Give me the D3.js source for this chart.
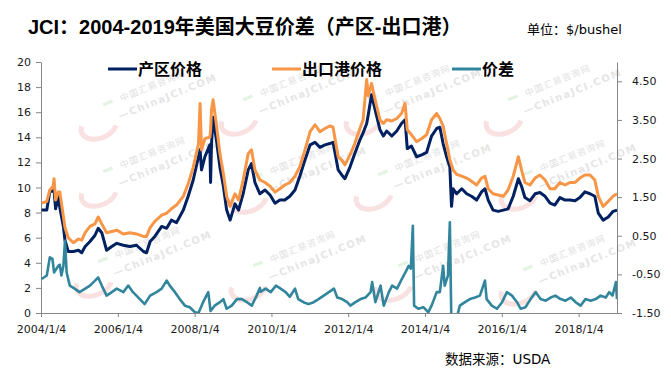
<!DOCTYPE html>
<html>
<head>
<meta charset="utf-8">
<script src="https://cdn.jsdelivr.net/npm/d3@7"></script>
<style>
  body { margin: 0; background: #fff; }
  svg { display: block; }
</style>
</head>
<body>
<div id="chart"></div>
<script>
// weekly prices (thinned out), $/bushel
var priceDates = [
  '2004-01-10','2004-02-28','2004-03-28','2004-04-28','2004-05-07','2004-05-22','2004-06-16','2004-07-01',
  '2004-08-04','2004-08-19','2004-09-19','2004-11-07','2004-12-25','2005-01-25','2005-02-27','2005-04-14',
  '2005-06-01','2005-07-01','2005-08-04','2005-09-19','2005-11-07','2005-12-25','2006-02-25','2006-04-28',
  '2006-07-01','2006-09-04','2006-10-04','2006-11-07','2006-12-22','2007-02-25','2007-04-13','2007-05-28',
  '2007-07-16','2007-09-19','2007-11-04','2007-12-22','2008-02-10','2008-02-25','2008-03-10','2008-04-11',
  '2008-05-28','2008-06-04','2008-06-13','2008-06-28','2008-07-31','2008-09-01','2008-10-04','2008-11-04',
  '2008-12-07','2009-01-22','2009-02-25','2009-04-10','2009-05-28','2009-06-28','2009-07-31','2009-09-16',
  '2009-11-04','2009-12-22','2010-02-07','2010-03-25','2010-05-11','2010-06-28','2010-08-16','2010-10-01',
  '2010-11-19','2011-01-07','2011-02-22','2011-04-10','2011-05-28','2011-07-13','2011-08-13','2011-10-01',
  '2011-11-04','2011-12-04','2012-01-22','2012-03-07','2012-04-25','2012-05-25','2012-06-28','2012-07-13',
  '2012-08-13','2012-09-16','2012-11-01','2012-12-04','2013-01-04','2013-02-22','2013-04-10','2013-05-25',
  '2013-06-28','2013-07-19','2013-08-28','2013-10-16','2013-12-04','2014-01-19','2014-03-07','2014-04-25',
  '2014-05-25','2014-06-25','2014-07-28','2014-08-28','2014-09-13','2014-09-28','2014-11-01','2014-12-19',
  '2015-02-04','2015-03-22','2015-05-10','2015-06-25','2015-07-28','2015-08-28','2015-10-13','2015-12-01',
  '2016-01-19','2016-03-04','2016-04-22','2016-06-10','2016-07-10','2016-08-11','2016-09-28','2016-11-16',
  '2017-01-01','2017-02-19','2017-04-07','2017-05-22','2017-07-10','2017-08-28','2017-10-13','2017-12-01',
  '2018-01-16','2018-03-04','2018-04-22','2018-06-07','2018-07-10','2018-08-25','2018-10-13','2018-11-28',
  '2019-01-04'
];

var farmPrice = [
  8.2, 8.2, 9.7, 9.7, 9.8, 8.3, 9.3, 8.4,
  6.9, 5.8, 4.9, 4.9, 5.0, 4.8, 5.3, 5.7,
  6.2, 6.75, 6.4, 5.0, 5.3, 5.55, 5.4, 5.3,
  5.4, 4.9, 4.8, 5.7, 6.1, 6.9, 6.75, 7.4,
  7.2, 8.2, 9.3, 10.6, 12.45, 13.0, 11.4, 12.45,
  13.4, 10.4, 13.5, 15.6, 13.7, 11.6, 10.1, 8.2,
  7.4, 8.7, 8.2, 9.5, 11.4, 11.9, 10.4, 9.5,
  9.8, 9.4, 8.75, 9.0, 9.0, 9.3, 9.8, 10.9,
  12.2, 13.4, 13.6, 13.2, 13.4, 13.5, 13.6, 11.4,
  11.0, 10.7, 11.65, 12.7, 13.8, 14.35, 15.1, 15.8,
  17.4, 16.2, 14.6, 14.1, 14.5, 14.1, 14.5, 15.1,
  15.4, 13.1, 13.3, 12.45, 12.6, 12.8, 14.1, 14.7,
  14.8, 13.5, 12.45, 11.65, 8.5, 9.9, 9.5, 9.9,
  9.5, 9.3, 9.0, 9.65, 9.9, 9.0, 8.2, 8.1,
  8.2, 8.3, 9.3, 10.7, 10.1, 9.2, 8.95, 9.5,
  9.6, 9.3, 8.75, 8.6, 9.2, 9.0, 9.0, 8.95,
  9.2, 9.65, 9.5, 9.3, 7.95, 7.4, 7.65, 8.1,
  8.2
];

var portPrice = [
  8.75, 8.9, 9.8, 10.1, 10.7, 9.0, 9.65, 9.65,
  7.7, 6.8, 6.0, 5.6, 5.9, 5.8, 6.4, 6.9,
  7.1, 7.65, 7.1, 6.4, 6.5, 6.6, 6.3, 6.4,
  6.3, 6.1, 6.1, 6.8, 7.3, 7.8, 7.95, 8.3,
  8.6, 9.3, 10.3, 11.6, 13.5, 16.7, 13.0, 13.9,
  14.0, 14.5, 16.2, 17.0, 14.9, 12.7, 11.1, 9.3,
  8.5, 9.5, 9.0, 10.6, 12.7, 13.0, 11.4, 10.6,
  10.4, 10.1, 9.65, 9.9, 10.2, 10.4, 10.9, 11.65,
  13.0, 14.45, 15.0, 14.45, 14.7, 14.9, 14.8, 12.45,
  12.2, 11.8, 12.6, 13.5, 14.7, 15.4, 18.6, 17.3,
  18.3, 17.0, 15.4, 15.1, 15.4, 15.3, 15.5, 15.9,
  16.7, 14.6, 14.2, 13.65, 13.9, 14.2, 15.4, 15.9,
  15.5, 14.9, 13.5, 12.2, 11.8, 11.4, 11.05, 10.9,
  10.75, 10.5, 10.2, 10.75, 10.9, 9.9, 9.5, 9.4,
  9.3, 9.8, 10.9, 12.45, 11.4, 10.4, 10.2, 10.75,
  11.0, 10.6, 9.9, 9.9, 10.4, 10.2, 10.4, 10.4,
  10.75, 11.0, 11.0, 10.6, 9.3, 8.5, 8.9, 9.3,
  9.5
];

// spread (farm - port), right axis
var spreadDates = [
  '2004-01-10','2004-02-28','2004-03-28','2004-04-22','2004-05-07','2004-06-16','2004-07-01','2004-07-16',
  '2004-08-04','2004-08-19','2004-09-04','2004-10-04','2004-11-19','2005-01-04','2005-02-27','2005-04-14',
  '2005-06-01','2005-07-01','2005-08-04','2005-09-19','2005-11-07','2005-12-25','2006-02-25','2006-04-13',
  '2006-05-28','2006-08-01','2006-09-16','2006-11-07','2007-01-07','2007-02-25','2007-04-13','2007-05-13',
  '2007-07-01','2007-08-16','2007-10-04','2007-11-19','2008-01-07','2008-02-10','2008-03-25','2008-05-13',
  '2008-06-04','2008-07-13','2008-09-01','2008-10-04','2008-11-04','2008-12-22','2009-02-10','2009-03-28',
  '2009-05-16','2009-07-01','2009-08-16','2009-09-16','2009-09-22','2009-11-10','2009-12-28','2010-02-16',
  '2010-04-01','2010-05-19','2010-06-28','2010-08-16','2010-09-16','2010-11-04','2010-12-22','2011-02-10',
  '2011-03-28','2011-05-16','2011-07-04','2011-08-22','2011-09-22','2011-11-07','2011-12-25','2012-01-25',
  '2012-03-13','2012-05-01','2012-06-16','2012-08-04','2012-08-19','2012-09-19','2012-11-07','2012-12-07',
  '2013-01-25','2013-02-25','2013-04-13','2013-05-28','2013-07-01','2013-08-01','2013-08-22','2013-09-10',
  '2013-09-22','2013-11-01','2013-12-19','2014-02-04','2014-03-07','2014-04-25','2014-05-25','2014-06-25',
  '2014-07-10','2014-08-10','2014-08-28','2014-09-13','2014-10-16','2014-12-01','2015-01-19','2015-03-07',
  '2015-04-25','2015-06-10','2015-07-28','2015-08-13','2015-10-01','2015-11-19','2016-01-07','2016-02-22',
  '2016-04-10','2016-05-28','2016-07-01','2016-08-16','2016-10-04','2016-11-22','2017-01-07','2017-02-25',
  '2017-04-13','2017-05-28','2017-07-16','2017-09-01','2017-10-22','2017-12-07','2018-01-22','2018-03-10',
  '2018-04-28','2018-06-16','2018-08-01','2018-09-19','2018-10-22','2018-11-22','2018-12-25','2019-01-04'
];

var spreadValues = [
  -0.62, -0.53, -0.06, -0.1, -0.45, -0.28, -0.25, -0.53,
  -0.28, 0.37, -0.45, -0.79, -0.87, -0.96, -0.87, -0.79,
  -0.66, -0.58, -0.79, -1.05, -0.96, -0.87, -0.96, -0.79,
  -0.96, -1.14, -1.27, -1.05, -0.96, -0.87, -0.66, -0.79,
  -0.96, -1.14, -1.31, -1.35, -1.48, -1.5, -1.22, -0.96,
  -1.45, -1.31, -1.22, -1.14, -1.39, -1.31, -1.14, -1.14,
  -1.22, -1.31, -1.05, -0.85, -0.95, -0.87, -0.96, -0.79,
  -0.87, -0.96, -1.08, -0.87, -1.14, -1.22, -1.27, -1.22,
  -1.14, -1.05, -0.96, -0.87, -1.1, -1.14, -1.22, -1.31,
  -1.22, -1.14, -1.1, -0.96, -0.7, -1.22, -0.79, -1.31,
  -0.96, -0.79, -0.87, -0.62, -0.45, -0.28, -0.35, 0.76,
  -1.31, -1.39, -1.35, -1.48, -1.31, -0.96, -0.96, -0.28,
  -0.79, -0.53, 0.85, -2.0, -1.8, -1.31, -1.22, -1.14,
  -1.1, -1.05, -0.66, -1.14, -1.31, -1.39, -1.22, -0.96,
  -1.05, -1.22, -1.39, -1.35, -1.14, -0.96, -1.14, -1.18,
  -1.1, -1.05, -1.14, -1.18, -1.1, -1.22, -1.31, -1.14,
  -1.18, -1.14, -1.05, -1.1, -0.96, -1.05, -0.7, -1.14
];

var xTickDates = ['2004-01-04','2006-01-04','2008-01-04','2010-01-04','2012-01-04','2014-01-04','2016-01-04','2018-01-04'];
var leftTicks = [0, 2, 4, 6, 8, 10, 12, 14, 16, 18, 20];
var rightTicks = [-1.5, -0.5, 0.5, 1.5, 2.5, 3.5, 4.5];
var seriesNames = ['产区价格', '出口港价格', '价差'];
var seriesColors = ['#002060', '#f79646', '#31859c'];

(function() {
    'use strict';

    var width = 671, height = 375;
    var left = 41, right = 617, top = 62, bottom = 313;
    var parse = d3.timeParse('%Y-%m-%d');
    var fontLatin = '"DejaVu Sans", "Noto Sans CJK SC", sans-serif';
    var fontCjk = '"Noto Sans CJK SC", "DejaVu Sans", sans-serif';

    var svg = d3.select('#chart').append('svg')
        .attr('width', width)
        .attr('height', height);

    svg.append('rect').attr('width', width).attr('height', height).attr('fill', '#fff');

    var x = d3.scaleTime()
        .domain([parse('2004-01-04'), parse('2019-01-04')])
        .range([left, right]);
    var yLeft = d3.scaleLinear().domain([0, 20]).range([bottom, top]);
    var yRight = d3.scaleLinear().domain([-1.5, 5]).range([bottom, top]);

    // faint site watermark behind the lines
    function drawMark(cx, cy) {
        var g = svg.append('g')
            .attr('transform', 'translate(' + cx + ',' + cy + ') rotate(-22)')
            .attr('opacity', 0.55);
        g.append('path')
            .attr('d', 'M-62,-2 A18,12 0 1,0 -30,10')
            .attr('fill', 'none')
            .attr('stroke', '#f6c9c9')
            .attr('stroke-width', 5);
        g.append('line')
            .attr('x1', -34).attr('y1', -14).attr('x2', -24).attr('y2', -14)
            .attr('stroke', '#cdeccd').attr('stroke-width', 3);
        g.append('text')
            .attr('x', -16).attr('y', -10)
            .style('font', '9px ' + fontCjk)
            .style('letter-spacing', '1px')
            .attr('fill', '#c8c8c8')
            .text('中国汇易咨询网');
        g.append('text')
            .attr('x', -24).attr('y', 6)
            .style('font', 'bold 10px ' + fontLatin)
            .style('letter-spacing', '1.5px')
            .attr('fill', '#d0d0d0')
            .text('—ChinaJCI.COM');
    }
    [[140, 105], [280, 100], [405, 100], [545, 100],
     [140, 172], [290, 178], [415, 175], [560, 175],
     [135, 262], [290, 266], [435, 266], [560, 270]].forEach(function(p) {
        drawMark(p[0], p[1]);
    });

    // axes
    var axisColor = '#868686';
    function styleAxis(g) {
        g.selectAll('path, line').attr('stroke', axisColor);
        g.selectAll('text')
            .attr('fill', '#1a1a1a')
            .style('font', '11px ' + fontLatin);
    }

    svg.append('g')
        .attr('transform', 'translate(' + left + ',0)')
        .call(d3.axisLeft(yLeft).tickValues(leftTicks).tickSize(5).tickSizeOuter(0).tickPadding(5))
        .call(styleAxis);

    svg.append('g')
        .attr('transform', 'translate(' + right + ',0)')
        .call(d3.axisRight(yRight).tickValues(rightTicks).tickSize(5).tickSizeOuter(0).tickPadding(10)
            .tickFormat(function(d) { return d.toFixed(2); }))
        .call(styleAxis);

    svg.append('g')
        .attr('transform', 'translate(0,' + bottom + ')')
        .call(d3.axisBottom(x).tickValues(xTickDates.map(parse)).tickSize(4).tickSizeOuter(0).tickPadding(8)
            .tickFormat(d3.timeFormat('%Y/%-m/%-d')))
        .call(styleAxis);

    // lines
    svg.append('clipPath').attr('id', 'plot-clip')
        .append('rect')
        .attr('x', left).attr('y', top)
        .attr('width', right - left).attr('height', bottom - top);

    var plot = svg.append('g').attr('clip-path', 'url(#plot-clip)');

    function drawLine(dates, values, yScale, color, w) {
        var pts = dates.map(function(d, i) { return [parse(d), values[i]]; });
        plot.append('path')
            .datum(pts)
            .attr('fill', 'none')
            .attr('stroke', color)
            .attr('stroke-width', w)
            .attr('stroke-linejoin', 'round')
            .attr('d', d3.line()
                .x(function(p) { return x(p[0]); })
                .y(function(p) { return yScale(p[1]); }));
    }

    drawLine(priceDates, farmPrice, yLeft, seriesColors[0], 3);
    drawLine(priceDates, portPrice, yLeft, seriesColors[1], 3);
    drawLine(spreadDates, spreadValues, yRight, seriesColors[2], 2.6);

    // legend
    var legendX = [108, 272, 452];
    seriesNames.forEach(function(name, i) {
        svg.append('line')
            .attr('x1', legendX[i]).attr('x2', legendX[i] + 29)
            .attr('y1', 69).attr('y2', 69)
            .attr('stroke', seriesColors[i])
            .attr('stroke-width', 3);
        svg.append('text')
            .attr('x', legendX[i] + 30).attr('y', 75)
            .style('font', 'bold 16px ' + fontCjk)
            .attr('fill', '#000')
            .text(name);
    });

    // titles
    svg.append('text')
        .attr('x', 28).attr('y', 34)
        .style('font', 'bold 20px "Liberation Sans", "Noto Sans CJK SC", sans-serif')
        .attr('fill', '#000')
        .text('JCI：2004-2019年美国大豆价差（产区-出口港）');

    svg.append('text')
        .attr('x', 527).attr('y', 34)
        .style('font', '13px ' + fontLatin)
        .attr('fill', '#000')
        .text('单位：$/bushel');

    svg.append('text')
        .attr('x', 445).attr('y', 364)
        .style('font', '13.5px ' + fontLatin)
        .attr('fill', '#000')
        .text('数据来源：USDA');
})();
</script>
</body>
</html>
